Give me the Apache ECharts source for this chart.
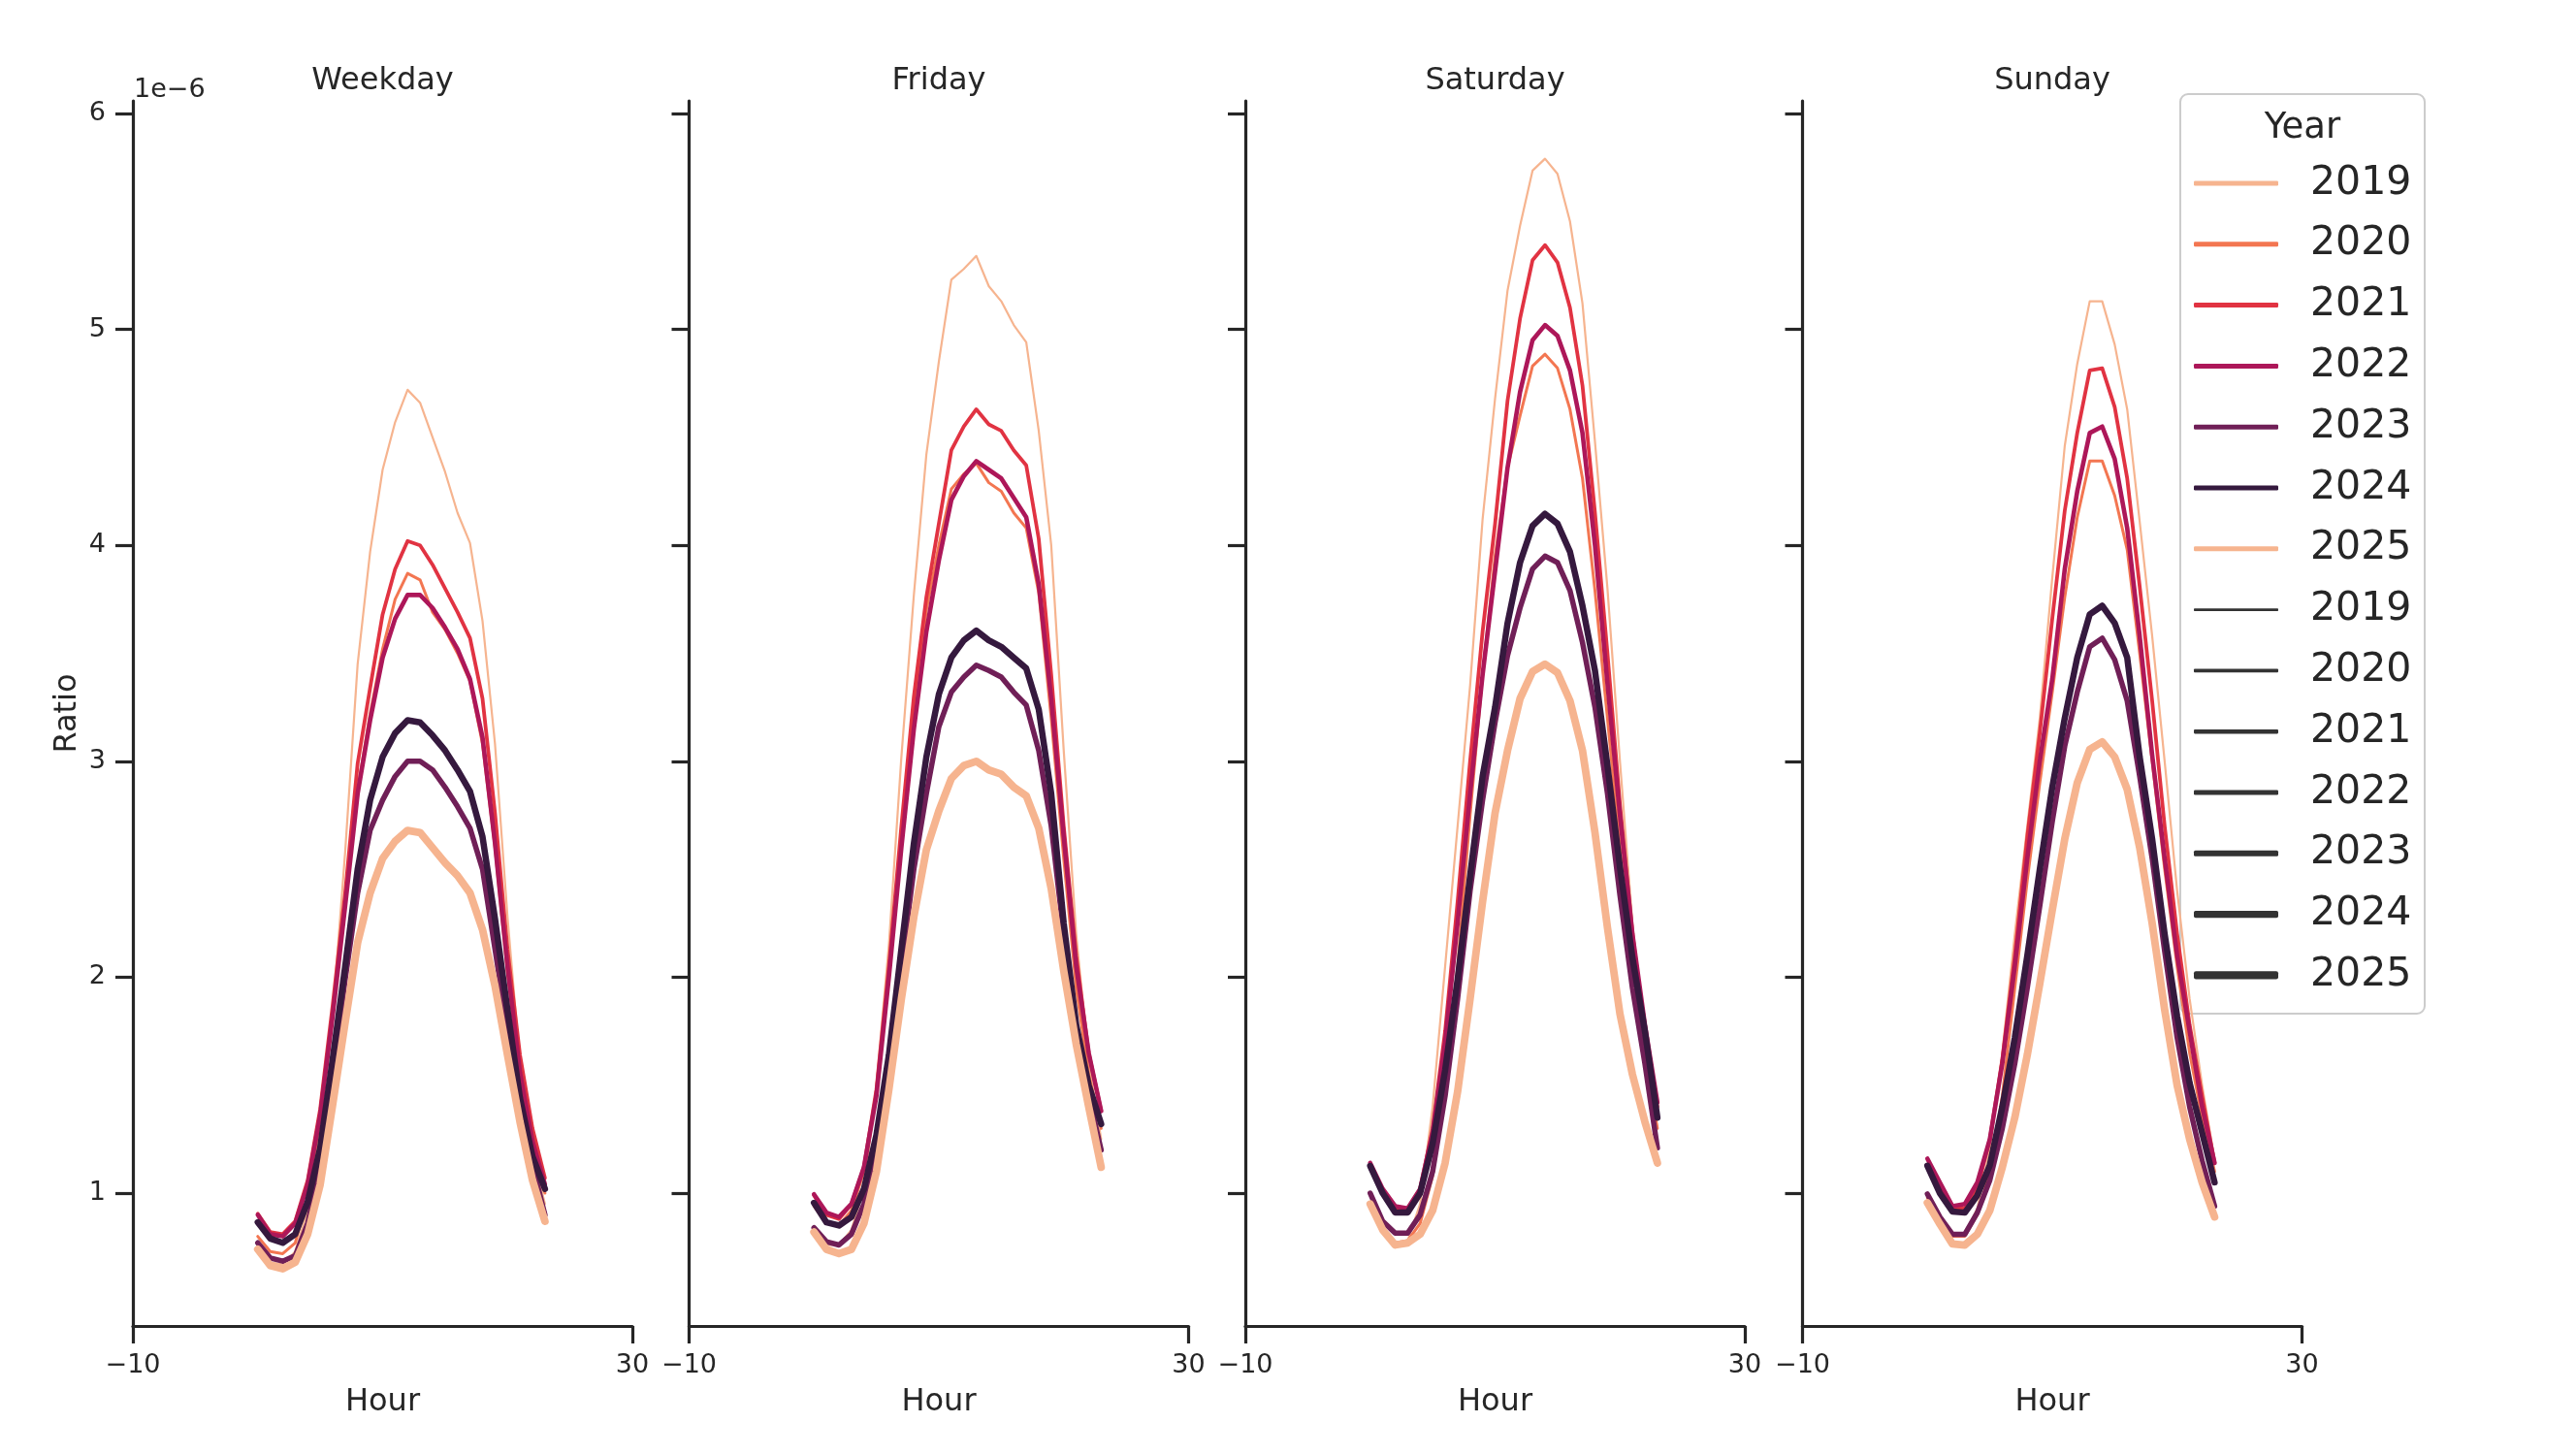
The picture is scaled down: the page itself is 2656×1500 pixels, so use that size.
<!DOCTYPE html>
<html>
<head>
<meta charset="utf-8">
<script src="https://cdn.jsdelivr.net/npm/echarts@6/dist/echarts.min.js"></script>
<style>
  html, body { margin: 0; padding: 0; background: #ffffff; }
  #chart { width: 2656px; height: 1500px; }
</style>
</head>
<body>
<div id="chart"></div>
<script>
// ---------------- DATA (values in units of 1e-6) ----------------
const panels = ['Weekday', 'Friday', 'Saturday', 'Sunday'];
const years = ['2019', '2020', '2021', '2022', '2023', '2024', '2025'];
const hours = [0, 1, 2, 3, 4, 5, 6, 7, 8, 9, 10, 11, 12, 13, 14, 15, 16, 17, 18, 19, 20, 21, 22, 23];
const xTicks = [-10, 30];
const yTicks = [1, 2, 3, 4, 5, 6];

const weekdayRatio = [
  [0.75, 0.68, 0.67, 0.73, 0.92, 1.30, 1.82, 2.58, 3.45, 3.97, 4.35, 4.57, 4.72, 4.66, 4.50, 4.34, 4.15, 4.01, 3.65, 3.08, 2.28, 1.60, 1.18, 0.95],
  [0.80, 0.73, 0.72, 0.77, 0.98, 1.35, 1.83, 2.35, 2.87, 3.22, 3.52, 3.75, 3.87, 3.84, 3.69, 3.61, 3.50, 3.37, 3.08, 2.60, 2.02, 1.55, 1.22, 1.00],
  [0.905, 0.82, 0.81, 0.87, 1.06, 1.39, 1.87, 2.39, 2.99, 3.34, 3.68, 3.89, 4.02, 4.00, 3.91, 3.80, 3.69, 3.57, 3.29, 2.76, 2.13, 1.64, 1.30, 1.07],
  [0.90, 0.81, 0.80, 0.86, 1.04, 1.36, 1.82, 2.33, 2.85, 3.19, 3.48, 3.66, 3.77, 3.77, 3.71, 3.62, 3.52, 3.38, 3.11, 2.62, 2.05, 1.56, 1.24, 1.04],
  [0.77, 0.70, 0.685, 0.71, 0.86, 1.13, 1.53, 1.99, 2.39, 2.68, 2.82, 2.93, 3.00, 3.00, 2.96, 2.88, 2.79, 2.69, 2.50, 2.13, 1.76, 1.42, 1.13, 0.90],
  [0.865, 0.79, 0.77, 0.81, 0.96, 1.21, 1.62, 2.05, 2.50, 2.82, 3.02, 3.13, 3.19, 3.18, 3.12, 3.05, 2.96, 2.86, 2.65, 2.27, 1.85, 1.44, 1.17, 1.02],
  [0.74, 0.665, 0.65, 0.68, 0.81, 1.04, 1.41, 1.79, 2.16, 2.39, 2.55, 2.63, 2.68, 2.67, 2.60, 2.53, 2.47, 2.39, 2.22, 1.96, 1.64, 1.33, 1.06, 0.87]
];

const fridayRatio = [
  [0.82, 0.76, 0.76, 0.83, 1.02, 1.50, 2.15, 3.02, 3.77, 4.42, 4.85, 5.23, 5.28, 5.34, 5.20, 5.13, 5.02, 4.94, 4.53, 4.00, 3.05, 2.20, 1.60, 1.25],
  [0.94, 0.86, 0.85, 0.92, 1.10, 1.45, 2.00, 2.65, 3.25, 3.70, 4.00, 4.26, 4.33, 4.38, 4.29, 4.25, 4.15, 4.08, 3.78, 3.20, 2.55, 1.95, 1.55, 1.30],
  [0.99, 0.90, 0.88, 0.95, 1.12, 1.48, 2.05, 2.70, 3.30, 3.76, 4.10, 4.44, 4.55, 4.63, 4.56, 4.53, 4.44, 4.37, 4.03, 3.40, 2.70, 2.10, 1.65, 1.38],
  [0.995, 0.91, 0.89, 0.95, 1.12, 1.45, 2.00, 2.60, 3.15, 3.60, 3.93, 4.21, 4.32, 4.39, 4.35, 4.31, 4.22, 4.13, 3.82, 3.29, 2.65, 2.05, 1.65, 1.38],
  [0.84, 0.775, 0.76, 0.81, 0.95, 1.20, 1.58, 2.05, 2.50, 2.85, 3.16, 3.32, 3.39, 3.445, 3.42, 3.39, 3.32, 3.26, 3.05, 2.70, 2.20, 1.75, 1.45, 1.20],
  [0.955, 0.865, 0.85, 0.89, 1.02, 1.27, 1.64, 2.13, 2.62, 3.02, 3.31, 3.48, 3.56, 3.605, 3.56, 3.53, 3.48, 3.43, 3.24, 2.85, 2.25, 1.78, 1.50, 1.32],
  [0.82, 0.74, 0.72, 0.74, 0.86, 1.10, 1.48, 1.90, 2.28, 2.59, 2.77, 2.92, 2.98, 3.00, 2.96, 2.94, 2.88, 2.84, 2.69, 2.41, 2.03, 1.69, 1.40, 1.12]
];

const saturdayRatio = [
  [0.93, 0.82, 0.77, 0.78, 0.95, 1.40, 2.05, 2.70, 3.35, 4.12, 4.68, 5.18, 5.48, 5.735, 5.79, 5.72, 5.50, 5.12, 4.48, 3.80, 3.00, 2.25, 1.70, 1.30],
  [0.95, 0.83, 0.77, 0.78, 0.86, 1.08, 1.50, 2.05, 2.75, 3.40, 3.95, 4.36, 4.60, 4.83, 4.885, 4.82, 4.63, 4.31, 3.79, 3.20, 2.60, 2.05, 1.62, 1.30],
  [1.12, 1.00, 0.93, 0.92, 1.02, 1.30, 1.75, 2.35, 3.00, 3.60, 4.10, 4.67, 5.05, 5.32, 5.39, 5.31, 5.10, 4.74, 4.15, 3.50, 2.80, 2.20, 1.75, 1.40],
  [1.14, 1.02, 0.94, 0.93, 1.02, 1.28, 1.70, 2.25, 2.85, 3.40, 3.88, 4.36, 4.71, 4.95, 5.02, 4.97, 4.81, 4.52, 4.00, 3.36, 2.75, 2.20, 1.78, 1.42],
  [1.00, 0.87, 0.815, 0.815, 0.90, 1.10, 1.45, 1.90, 2.40, 2.82, 3.18, 3.49, 3.71, 3.89, 3.95, 3.92, 3.79, 3.55, 3.25, 2.85, 2.38, 1.95, 1.60, 1.21],
  [1.126, 1.00, 0.91, 0.91, 1.00, 1.23, 1.57, 1.99, 2.47, 2.93, 3.25, 3.64, 3.92, 4.09, 4.146, 4.10, 3.97, 3.72, 3.42, 2.98, 2.51, 2.09, 1.75, 1.35],
  [0.95, 0.83, 0.76, 0.77, 0.81, 0.92, 1.14, 1.47, 1.90, 2.35, 2.76, 3.05, 3.29, 3.415, 3.45, 3.41, 3.28, 3.05, 2.67, 2.23, 1.83, 1.55, 1.33, 1.14]
];

const sundayRatio = [
  [0.98, 0.87, 0.80, 0.81, 0.93, 1.20, 1.65, 2.20, 2.70, 3.20, 3.85, 4.46, 4.84, 5.13, 5.13, 4.93, 4.63, 4.11, 3.58, 3.00, 2.40, 1.90, 1.50, 1.15],
  [0.98, 0.88, 0.80, 0.80, 0.90, 1.10, 1.45, 1.95, 2.45, 2.90, 3.32, 3.76, 4.13, 4.39, 4.39, 4.23, 3.98, 3.50, 3.00, 2.50, 2.05, 1.65, 1.35, 1.10],
  [1.13, 1.02, 0.93, 0.93, 1.02, 1.25, 1.62, 2.10, 2.65, 3.13, 3.66, 4.16, 4.52, 4.81, 4.82, 4.64, 4.31, 3.81, 3.28, 2.70, 2.20, 1.78, 1.45, 1.14],
  [1.16, 1.05, 0.94, 0.95, 1.05, 1.25, 1.60, 2.05, 2.55, 3.00, 3.38, 3.89, 4.25, 4.52, 4.55, 4.40, 4.08, 3.58, 3.03, 2.55, 2.10, 1.75, 1.40, 1.14],
  [0.996, 0.89, 0.81, 0.81, 0.91, 1.06, 1.30, 1.60, 1.95, 2.33, 2.72, 3.07, 3.32, 3.53, 3.57, 3.47, 3.28, 2.93, 2.55, 2.12, 1.72, 1.40, 1.15, 0.94],
  [1.127, 1.00, 0.915, 0.91, 0.99, 1.13, 1.40, 1.72, 2.10, 2.50, 2.88, 3.20, 3.48, 3.68, 3.72, 3.64, 3.48, 3.02, 2.64, 2.20, 1.82, 1.51, 1.28, 1.05],
  [0.955, 0.857, 0.765, 0.76, 0.81, 0.92, 1.12, 1.35, 1.64, 1.97, 2.31, 2.64, 2.90, 3.055, 3.09, 3.02, 2.87, 2.60, 2.25, 1.85, 1.50, 1.25, 1.05, 0.89]
];

const panelData = [weekdayRatio, fridayRatio, saturdayRatio, sundayRatio];

// ---------------- STYLE ----------------
const yearColors = ['#F6B48F', '#F37651', '#E13342', '#AD1759', '#701F57', '#35193E', '#F6B48F'];
const yearWidths = [2.2, 3.0, 3.8, 4.6, 5.5, 6.5, 7.8];
const ink = '#262626';
const font = 'DejaVu Sans';

const gridLefts = [137, 710.5, 1284, 1858.5];
const gridTop = 104;
const gridWidth = 515;
const gridHeight = 1263;
const yMin = 0.385, yMax = 6.058;

const chart = echarts.init(document.getElementById('chart'), null, { renderer: 'canvas' });

const grids = [], xAxes = [], yAxes = [], series = [], titles = [];

panels.forEach((name, p) => {
  grids.push({ left: gridLefts[p], top: gridTop, width: gridWidth, height: gridHeight, containLabel: false });
  titles.push({
    text: name,
    left: gridLefts[p] + gridWidth / 2 - 5,
    top: 63,
    textAlign: 'center',
    textStyle: { fontFamily: font, fontSize: 32, fontWeight: 'normal', color: ink }
  });
  xAxes.push({
    type: 'value', gridIndex: p, min: -10, max: 30,
    name: 'Hour', nameLocation: 'middle', nameGap: 63,
    nameTextStyle: { fontFamily: font, fontSize: 32, color: ink },
    axisLine: { show: true, onZero: false, lineStyle: { color: ink, width: 3.2 } },
    axisTick: { show: true, length: 18, customValues: xTicks, lineStyle: { color: ink, width: 3.2 } },
    axisLabel: {
      show: true, margin: 27, customValues: xTicks, fontFamily: font, fontSize: 27, color: ink,
      formatter: v => (v < 0 ? '\u2212' + Math.abs(v) : String(v))
    },
    splitLine: { show: false }
  });
  yAxes.push({
    type: 'value', gridIndex: p, min: yMin, max: yMax,
    name: p === 0 ? 'Ratio' : '', nameLocation: 'middle', nameGap: 51, nameRotate: 90,
    nameTextStyle: { fontFamily: font, fontSize: 32, color: ink },
    axisLine: { show: true, onZero: false, lineStyle: { color: ink, width: 3.2 } },
    axisTick: { show: true, length: 18, customValues: yTicks, lineStyle: { color: ink, width: 3.2 } },
    axisLabel: {
      show: p === 0, margin: 28, customValues: yTicks, fontFamily: font, fontSize: 27, color: ink,
      formatter: v => String(Math.round(v))
    },
    splitLine: { show: false }
  });
  years.forEach((yr, k) => {
    series.push({
      name: yr, type: 'line', xAxisIndex: p, yAxisIndex: p,
      data: hours.map((h, i) => [h, panelData[p][k][i]]),
      showSymbol: false, symbol: 'none', silent: true, animation: false,
      color: yearColors[k],
      itemStyle: { color: yearColors[k] },
      lineStyle: { color: yearColors[k], width: yearWidths[k], cap: 'round', join: 'round' },
      emphasis: { disabled: true }
    });
  });
});

// dummy series for the size part of the legend
years.forEach((yr, k) => {
  series.push({
    name: 'size' + yr, type: 'line', xAxisIndex: 0, yAxisIndex: 0, data: [],
    showSymbol: false, symbol: 'none', silent: true, animation: false,
    color: '#333333', itemStyle: { color: '#333333' },
    lineStyle: { color: '#333333', width: yearWidths[k] }
  });
});

// legends
const rowStart = 189, rowStep = 62.8, legFont = 41;
const legends = [];
legends.push({
  orient: 'vertical', left: 2262, top: rowStart - legFont / 2, padding: 0,
  itemWidth: 87, itemHeight: 5, itemGap: rowStep - legFont, icon: 'roundRect',
  selectedMode: false, data: years,
  textStyle: { fontFamily: font, fontSize: legFont, lineHeight: legFont, color: ink, padding: [0, 0, 0, 28] }
});
years.forEach((yr, k) => {
  legends.push({
    orient: 'vertical', left: 2262, top: rowStart + (7 + k) * rowStep - legFont / 2, padding: 0,
    itemWidth: 87, itemHeight: yearWidths[k] + 0.6, icon: 'roundRect',
    selectedMode: false, data: ['size' + yr],
    formatter: n => n.replace('size', ''),
    textStyle: { fontFamily: font, fontSize: legFont, lineHeight: legFont, color: ink, padding: [0, 0, 0, 28] }
  });
});

const option = {
  backgroundColor: '#ffffff',
  animation: false,
  title: titles,
  grid: grids,
  xAxis: xAxes,
  yAxis: yAxes,
  legend: legends,
  series: series,
  graphic: [
    {
      type: 'rect', z: 3, silent: true,
      shape: { x: 2248, y: 97, width: 252, height: 948, r: 8 },
      style: { fill: 'rgba(255,255,255,0.8)', stroke: '#cccccc', lineWidth: 2 }
    },
    {
      type: 'text', z: 5, silent: true, x: 2374, y: 132,
      style: { text: 'Year', font: '37px "DejaVu Sans"', fill: ink, textAlign: 'center', textVerticalAlign: 'middle' }
    },
    {
      type: 'text', z: 5, silent: true, x: 138, y: 93,
      style: { text: '1e\u22126', font: '27px "DejaVu Sans"', fill: ink, textAlign: 'left', textVerticalAlign: 'middle' }
    }
  ]
};

chart.setOption(option);
</script>
</body>
</html>
